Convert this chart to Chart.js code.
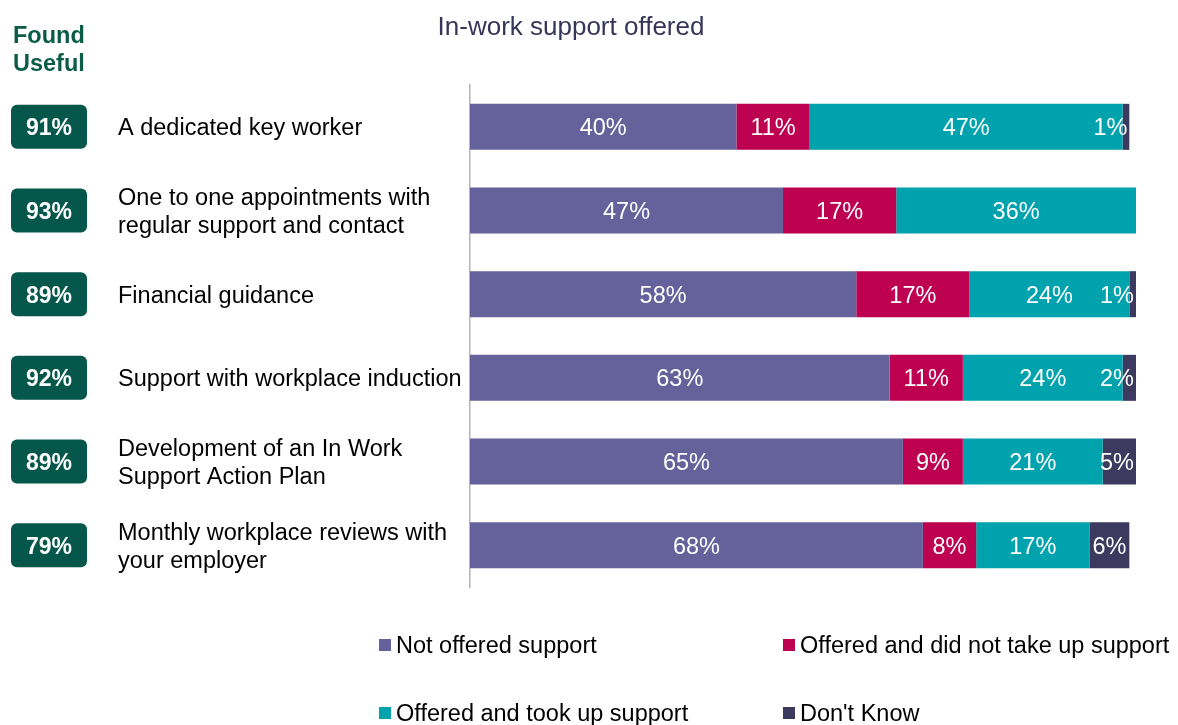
<!DOCTYPE html>
<html>
<head>
<meta charset="utf-8">
<title>In-work support offered</title>
<script src="https://cdn.jsdelivr.net/npm/chart.js@4.4.0/dist/chart.umd.min.js"></script>
<style>
  html, body { margin: 0; padding: 0; background: #fff; }
  #wrap { width: 1178px; height: 725px; }
</style>
</head>
<body>
<div id="wrap"><canvas id="supportChart" width="1178" height="725"></canvas></div>
<script>
// rows of the chart, top to bottom
const categories = [
  ['A dedicated key worker'],
  ['One to one appointments with', 'regular support and contact'],
  ['Financial guidance'],
  ['Support with workplace induction'],
  ['Development of an In Work', 'Support Action Plan'],
  ['Monthly workplace reviews with', 'your employer']
];
const foundUseful = [91, 93, 89, 92, 89, 79];

const notOffered      = [40, 47, 58, 63, 65, 68];
const offeredDeclined = [11, 17, 17, 11, 9, 8];
const offeredTaken    = [47, 36, 24, 24, 21, 17];
const dontKnow        = [1, 0, 1, 2, 5, 6];

const seriesNames = ['Not offered support', 'Offered and did not take up support',
                     'Offered and took up support', "Don't Know"];
const seriesColors = ['#64619b', '#bd0050', '#00a2ad', '#3c3a5e'];

const FONT = "'Liberation Sans', Arial, sans-serif";

// title, "Found Useful" column and the green badges
const sidePanel = {
  id: 'sidePanel',
  afterDraw(chart) {
    const ctx = chart.ctx;
    const yScale = chart.scales.y;
    ctx.save();
    ctx.textBaseline = 'middle';

    ctx.fillStyle = '#36355a';
    ctx.font = '26px ' + FONT;
    ctx.textAlign = 'center';
    ctx.fillText('In-work support offered', 571, 28);

    ctx.fillStyle = '#0b5c47';
    ctx.font = 'bold 23.5px ' + FONT;
    ctx.textAlign = 'left';
    ctx.fillText('Found', 13, 37);
    ctx.fillText('Useful', 13, 65);

    foundUseful.forEach(function(v, i) {
      const cy = yScale.getPixelForTick(i);
      ctx.fillStyle = '#04574a';
      ctx.beginPath();
      ctx.roundRect(11, cy - 22, 76, 44, 6);
      ctx.fill();
      ctx.fillStyle = '#fff';
      ctx.font = 'bold 23px ' + FONT;
      ctx.textAlign = 'center';
      ctx.fillText(v + '%', 49, cy + 2);
    });
    ctx.restore();
  }
};

// percentage labels inside each bar segment
const segmentLabels = {
  id: 'segmentLabels',
  afterDatasetsDraw(chart) {
    const ctx = chart.ctx;
    ctx.save();
    ctx.font = '23.5px ' + FONT;
    ctx.fillStyle = '#fff';
    ctx.textAlign = 'center';
    ctx.textBaseline = 'middle';
    chart.data.datasets.forEach(function(ds, di) {
      const meta = chart.getDatasetMeta(di);
      meta.data.forEach(function(bar, i) {
        const v = ds.data[i];
        if (!v) return;
        const text = v + '%';
        const p = bar.getProps(['x', 'y', 'base'], true);
        const w = p.x - p.base;
        const tw = ctx.measureText(text).width;
        let cx = (p.x + p.base) / 2;
        if (tw > w) cx = p.x - 2 - tw / 2;
        ctx.fillText(text, cx, p.y + 2);
      });
    });
    ctx.restore();
  }
};

// two-column legend under the bars
const gridLegend = {
  id: 'gridLegend',
  afterDraw(chart) {
    const ctx = chart.ctx;
    const cols = [379, 783];
    const rows = [645, 713];
    ctx.save();
    ctx.font = '23.5px ' + FONT;
    ctx.textBaseline = 'middle';
    ctx.textAlign = 'left';
    chart.data.datasets.forEach(function(ds, i) {
      const x = cols[i % 2];
      const y = rows[Math.floor(i / 2)];
      ctx.fillStyle = ds.backgroundColor;
      ctx.fillRect(x, y - 6, 12, 12);
      ctx.fillStyle = '#000';
      ctx.fillText(ds.label, x + 17, y + 2);
    });
    ctx.restore();
  }
};

const seriesData = [notOffered, offeredDeclined, offeredTaken, dontKnow];

new Chart(document.getElementById('supportChart'), {
  type: 'bar',
  data: {
    labels: categories,
    datasets: seriesData.map(function(d, i) {
      return {
        label: seriesNames[i],
        data: d,
        backgroundColor: seriesColors[i],
        borderWidth: 0,
        categoryPercentage: 1,
        barPercentage: 0.55
      };
    })
  },
  options: {
    indexAxis: 'y',
    responsive: false,
    animation: false,
    layout: { padding: { left: 118, right: 42, top: 85, bottom: 138 } },
    plugins: {
      legend: { display: false },
      title: { display: false },
      tooltip: { enabled: false }
    },
    scales: {
      x: {
        stacked: true,
        min: 0,
        max: 100,
        display: false
      },
      y: {
        stacked: true,
        grid: { display: false },
        border: { display: true, color: '#b5b5b5', width: 1.5 },
        afterFit: function(scale) { scale.width = 352; },
        ticks: {
          autoSkip: false,
          crossAlign: 'far',
          labelOffset: 2,
          color: '#000',
          font: { family: FONT, size: 23.5, lineHeight: 1.2 }
        }
      }
    }
  },
  plugins: [segmentLabels, sidePanel, gridLegend]
});
</script>
</body>
</html>
